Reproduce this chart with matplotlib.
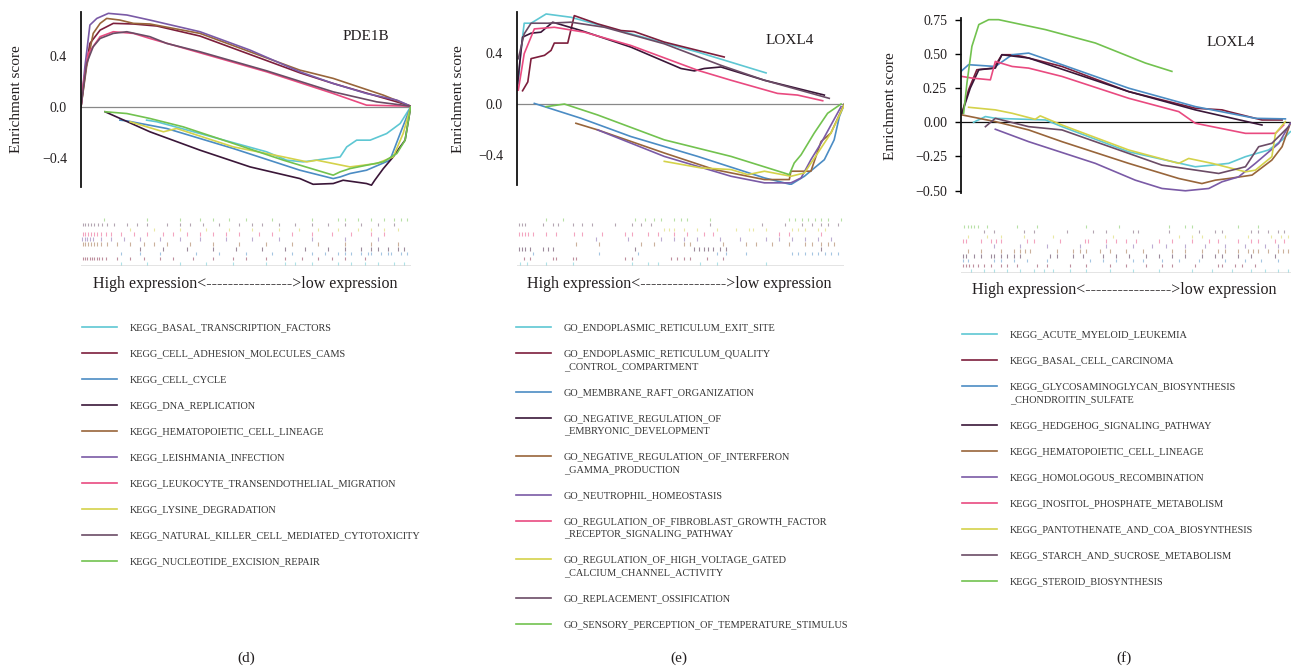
import matplotlib
matplotlib.use("Agg")
import matplotlib.pyplot as plt

plt.rcParams['font.family'] = ['Liberation Serif', 'DejaVu Serif']

W, H = 1293, 671
TXT = '#231f20'

# one colour per legend row, same order in the three panels
colors = ['#5ec7d3', '#7d1e3c', '#4b8cc4', '#3a1638', '#98653a',
          '#7a5aa6', '#e94a80', '#d4d24a', '#6b4c66', '#72c24f']

# ---------------- (d) PDE1B ----------------
d_gene = "PDE1B"
d_names = ["KEGG_BASAL_TRANSCRIPTION_FACTORS", "KEGG_CELL_ADHESION_MOLECULES_CAMS",
           "KEGG_CELL_CYCLE", "KEGG_DNA_REPLICATION", "KEGG_HEMATOPOIETIC_CELL_LINEAGE",
           "KEGG_LEISHMANIA_INFECTION", "KEGG_LEUKOCYTE_TRANSENDOTHELIAL_MIGRATION",
           "KEGG_LYSINE_DEGRADATION", "KEGG_NATURAL_KILLER_CELL_MEDIATED_CYTOTOXICITY",
           "KEGG_NUCLEOTIDE_EXCISION_REPAIR"]
d_x = [
    [19.9, 23, 36.1, 56.3, 62.4, 67.4, 78.6, 80.6, 83.6, 87.7, 92.7, 96.8, 100],
    [0, 1.2, 2.7, 5.8, 9.8, 15.9, 23, 36.1, 66.4, 76.5, 95.8, 100],
    [11.8, 13.9, 26, 46.2, 66.4, 76.5, 78.6, 81.6, 86.6, 93.7, 96.8, 100],
    [7.3, 20.9, 36.1, 51.3, 66.4, 70.4, 76.5, 79.5, 86.6, 88.1, 89.1, 91.7, 94.7, 96.8, 98.3, 100],
    [0, 1.7, 3.7, 5.8, 7.8, 11.8, 15.9, 20.9, 36.1, 66.4, 68.5, 76.5, 91.7, 100],
    [0, 1.2, 2.7, 4.8, 8.3, 13.9, 20.9, 36.1, 51.3, 66.4, 76.5, 86.6, 95.8, 100],
    [0, 0.7, 2.2, 5.8, 9.8, 15.9, 20.9, 36.1, 56.3, 76.5, 86.6, 100],
    [14.9, 25, 29, 46.2, 61.4, 68.5, 71.5, 81.6, 89.7, 94.7, 97.7, 100],
    [0, 1.7, 3.7, 5.8, 9.8, 13.9, 20.9, 26, 36.1, 56.3, 76.5, 89.7, 100],
    [7.3, 13.9, 20.9, 31, 46.2, 61.4, 76.5, 78.6, 81.6, 91.7, 95.8, 98.3, 100],
]
d_y = [
    [-0.105, -0.118, -0.211, -0.355, -0.421, -0.434, -0.395, -0.316, -0.263, -0.263, -0.211, -0.132, 0.0],
    [0, 0.263, 0.5, 0.605, 0.658, 0.653, 0.637, 0.558, 0.268, 0.184, 0.039, 0.005],
    [-0.105, -0.111, -0.171, -0.329, -0.5, -0.566, -0.553, -0.526, -0.5, -0.421, -0.211, 0.0],
    [-0.039, -0.197, -0.342, -0.474, -0.566, -0.611, -0.605, -0.579, -0.605, -0.618, -0.579, -0.487, -0.395, -0.316, -0.263, 0.0],
    [0, 0.316, 0.579, 0.658, 0.697, 0.684, 0.658, 0.653, 0.579, 0.289, 0.276, 0.224, 0.092, 0.005],
    [0, 0.32, 0.645, 0.697, 0.737, 0.724, 0.684, 0.592, 0.447, 0.276, 0.184, 0.105, 0.053, 0.005],
    [0, 0.184, 0.421, 0.553, 0.592, 0.579, 0.539, 0.426, 0.276, 0.105, 0.013, 0.005],
    [-0.118, -0.197, -0.171, -0.316, -0.395, -0.434, -0.421, -0.474, -0.447, -0.395, -0.211, 0.0],
    [0, 0.342, 0.474, 0.539, 0.579, 0.592, 0.553, 0.5, 0.434, 0.284, 0.118, 0.039, 0.005],
    [-0.039, -0.053, -0.092, -0.158, -0.289, -0.421, -0.539, -0.513, -0.487, -0.434, -0.368, -0.263, 0.0],
]
d_hits = [
    [12, 20, 30, 38, 46, 56, 62, 65, 70, 78, 82, 86, 90, 95, 98],
    [0.5, 1.2, 1.9, 2.6, 3.3, 4, 4.8, 5.6, 6.5, 7.5, 11, 15, 19, 24, 28, 34, 40, 46, 50, 56, 62, 67, 72, 76, 80, 86],
    [12, 18, 24, 35, 42, 50, 58, 64, 70, 74, 78, 80, 82, 85, 87, 88, 91, 93, 94, 97, 99],
    [18, 25, 32, 40, 47, 55, 62, 68, 75, 80, 85, 88, 90, 93, 96, 98],
    [0.5, 1.3, 2.1, 3, 3.9, 4.8, 6, 8, 11, 15, 19, 22, 26, 33, 40, 48, 56, 64, 72, 80, 88, 96],
    [0.4, 1.1, 1.8, 2.6, 3.5, 6, 9, 13, 18, 24, 30, 36, 44, 52, 60, 70, 80, 90],
    [0.5, 1.3, 2.1, 3, 4, 5, 6.2, 7.5, 9, 12, 16, 20, 25, 28, 32, 36, 40, 44, 48, 54, 58, 64, 70, 76, 82, 88, 92],
    [15, 22, 30, 38, 45, 52, 60, 66, 72, 78, 84, 88, 92, 96],
    [0.5, 1.3, 2.1, 3, 4, 5.2, 6.5, 8, 10, 14, 17, 20, 26, 30, 33, 37, 42, 48, 52, 55, 60, 65, 70, 75, 80, 85, 90, 95],
    [7, 20, 30, 36, 40, 45, 50, 58, 70, 78, 80, 84, 88, 92, 95, 97, 99],
]

# ---------------- (e) LOXL4, GO sets ----------------
e_gene = "LOXL4"
e_names = ["GO_ENDOPLASMIC_RETICULUM_EXIT_SITE",
           "GO_ENDOPLASMIC_RETICULUM_QUALITY\n_CONTROL_COMPARTMENT",
           "GO_MEMBRANE_RAFT_ORGANIZATION",
           "GO_NEGATIVE_REGULATION_OF\n_EMBRYONIC_DEVELOPMENT",
           "GO_NEGATIVE_REGULATION_OF_INTERFERON\n_GAMMA_PRODUCTION",
           "GO_NEUTROPHIL_HOMEOSTASIS",
           "GO_REGULATION_OF_FIBROBLAST_GROWTH_FACTOR\n_RECEPTOR_SIGNALING_PATHWAY",
           "GO_REGULATION_OF_HIGH_VOLTAGE_GATED\n_CALCIUM_CHANNEL_ACTIVITY",
           "GO_REPLACEMENT_OSSIFICATION",
           "GO_SENSORY_PERCEPTION_OF_TEMPERATURE_STIMULUS"]
e_x = [
    [0.4, 1.2, 2.2, 4.3, 8.9, 16.5, 34.8, 55.2, 76.1],
    [1.7, 3.3, 4.3, 8.4, 10.4, 11.4, 15.5, 17.5, 24.6, 31.8, 35.8, 45, 55.2, 63.3],
    [5.3, 19.6, 34.8, 55.2, 75.6, 83.7, 87.8, 93.9, 96.9, 98.5, 100],
    [0, 0.7, 1.7, 4.3, 7.3, 10.9, 19.6, 34.8, 50.1, 54.2, 57.2, 62.3, 75.6, 93.9],
    [18, 24.6, 45, 60.3, 75.6, 83.2, 83.7, 89.8, 92.9, 95.9, 100],
    [24.6, 45, 65.4, 75.6, 83.7, 86.8, 89.8, 92.9, 99],
    [0.4, 2.2, 5.3, 11.4, 20.6, 34.8, 55.2, 65.4, 79.6, 85.7, 93.4],
    [45, 56.2, 65.4, 70.5, 75.6, 83.7, 87.8, 91.9, 95.9, 100],
    [0.4, 2.2, 4.3, 9.4, 16.5, 26.7, 45, 62.3, 75.6, 95.4],
    [8.9, 14.5, 24.6, 45, 65.4, 83.2, 84.7, 86.8, 90.8, 94.9, 99],
]
e_y = [
    [0.162, 0.424, 0.639, 0.639, 0.712, 0.686, 0.555, 0.411, 0.246],
    [0.105, 0.175, 0.359, 0.385, 0.424, 0.482, 0.482, 0.699, 0.634, 0.581, 0.573, 0.49, 0.424, 0.372],
    [0.005, -0.113, -0.257, -0.414, -0.584, -0.636, -0.571, -0.44, -0.283, -0.099, 0.0],
    [0.11, 0.293, 0.529, 0.56, 0.568, 0.647, 0.581, 0.45, 0.281, 0.262, 0.281, 0.293, 0.188, 0.071],
    [-0.152, -0.204, -0.387, -0.518, -0.597, -0.597, -0.531, -0.531, -0.296, -0.23, 0.0],
    [-0.204, -0.414, -0.571, -0.623, -0.623, -0.584, -0.44, -0.309, -0.021],
    [0.11, 0.398, 0.594, 0.607, 0.568, 0.463, 0.267, 0.188, 0.084, 0.071, 0.026],
    [-0.453, -0.505, -0.518, -0.558, -0.531, -0.571, -0.545, -0.387, -0.23, -0.008],
    [0.359, 0.555, 0.639, 0.639, 0.647, 0.607, 0.476, 0.306, 0.188, 0.045],
    [-0.021, 0.0, -0.086, -0.283, -0.414, -0.558, -0.466, -0.401, -0.23, -0.073, 0.0],
]
e_hits = [
    [1, 3, 9, 17, 35, 40, 43, 56, 61, 76],
    [2, 4, 11, 12, 17, 18, 33, 35, 47, 49, 51, 53, 58, 63],
    [5, 25, 37, 61, 64, 70, 84, 86, 88, 90, 92, 94, 96, 98],
    [0.5, 1.5, 2.5, 4, 8, 9.5, 11, 36, 54, 55.5, 57, 58.5, 60, 62, 64, 93],
    [18, 25, 38, 42, 51, 53, 63, 70, 73, 78, 83, 88, 90, 93, 95, 97],
    [24, 34, 44, 48, 51, 55, 62, 68, 76, 80, 84, 88, 92, 96],
    [0.5, 1.5, 2.5, 3.5, 5, 9, 12, 17.5, 20, 26, 33, 35, 40, 43, 48, 52, 57, 60, 80, 83, 93],
    [45, 46.5, 48, 51, 55, 61, 67, 71, 72, 76, 84, 86, 88, 92, 94],
    [0.5, 1.5, 2.5, 8, 11, 12.5, 17, 20, 23, 30, 35, 38, 41, 59, 75, 82, 87, 90, 93, 95, 98],
    [9, 14, 36, 39, 42, 44, 48, 50, 52, 59, 83, 85, 87, 89, 91, 93, 95, 99],
]

# ---------------- (f) LOXL4, KEGG sets ----------------
f_gene = "LOXL4"
f_names = ["KEGG_ACUTE_MYELOID_LEUKEMIA", "KEGG_BASAL_CELL_CARCINOMA",
           "KEGG_GLYCOSAMINOGLYCAN_BIOSYNTHESIS\n_CHONDROITIN_SULFATE",
           "KEGG_HEDGEHOG_SIGNALING_PATHWAY", "KEGG_HEMATOPOIETIC_CELL_LINEAGE",
           "KEGG_HOMOLOGOUS_RECOMBINATION", "KEGG_INOSITOL_PHOSPHATE_METABOLISM",
           "KEGG_PANTOTHENATE_AND_COA_BIOSYNTHESIS", "KEGG_STARCH_AND_SUCROSE_METABOLISM",
           "KEGG_STEROID_BIOSYNTHESIS"]
f_x = [
    [3.8, 7.4, 10.4, 25.6, 30.6, 50.8, 71, 76.1, 81.1, 86.2, 93.2, 97.3, 99.8],
    [0.3, 2.3, 4.8, 9.9, 12.4, 15.5, 18.5, 30.6, 50.8, 71, 79.1, 81.1, 91.2, 97.3],
    [0, 2.3, 10.4, 15.5, 20.5, 30.6, 50.8, 71, 89.2, 98.3],
    [0.3, 2.8, 5.4, 10.4, 12.4, 20.5, 50.8, 71, 91.2],
    [0.3, 10.4, 20.5, 30.6, 50.8, 66, 73, 77.1, 81.1, 88.2, 94.2, 97.3, 99.8],
    [10.4, 20.5, 40.7, 52.8, 60.9, 68, 75.1, 79.1, 84.1, 89.2, 96.3, 99.8],
    [0.3, 3.3, 8.9, 10.4, 15.5, 20.5, 30.6, 50.8, 66, 71, 86.2, 95.3, 97.8],
    [2.3, 10.4, 15.5, 22.5, 24, 30.6, 50.8, 66, 69, 76.1, 86.2, 89.2, 94.2, 95.3, 98.3],
    [7.4, 10.4, 20.5, 30.6, 50.8, 60.9, 71, 78.1, 86.2, 90.2, 94.2, 99.3],
    [0.8, 1.8, 3.3, 5.4, 8.4, 11.4, 25.6, 40.7, 55.9, 63.9],
]
f_y = [
    [0.0, 0.042, 0.029, 0.017, -0.032, -0.216, -0.326, -0.314, -0.301, -0.252, -0.203, -0.13, -0.069],
    [0.066, 0.238, 0.385, 0.397, 0.495, 0.495, 0.483, 0.409, 0.225, 0.103, 0.091, 0.078, 0.017, 0.017],
    [0.373, 0.422, 0.409, 0.495, 0.507, 0.422, 0.25, 0.115, 0.029, 0.025],
    [0.066, 0.25, 0.385, 0.397, 0.495, 0.471, 0.225, 0.091, -0.02],
    [0.054, 0.005, -0.056, -0.142, -0.301, -0.412, -0.449, -0.424, -0.412, -0.387, -0.277, -0.179, -0.007],
    [-0.051, -0.142, -0.301, -0.424, -0.485, -0.502, -0.485, -0.436, -0.4, -0.301, -0.154, -0.007],
    [0.336, 0.324, 0.311, 0.446, 0.409, 0.397, 0.336, 0.176, 0.078, -0.007, -0.081, -0.081, -0.02],
    [0.11, 0.091, 0.066, 0.022, 0.047, -0.02, -0.203, -0.301, -0.265, -0.301, -0.363, -0.351, -0.252, -0.081, 0.005],
    [-0.032, 0.029, -0.032, -0.056, -0.228, -0.314, -0.35, -0.375, -0.326, -0.179, -0.154, -0.032],
    [0.066, 0.287, 0.556, 0.716, 0.752, 0.752, 0.679, 0.581, 0.434, 0.373],
]
f_hits = [
    [3, 7, 10, 14, 18, 22, 25, 28, 33, 38, 45, 52, 60, 70, 76, 82, 88, 92, 96, 99],
    [0.5, 1.5, 2.5, 3.5, 5, 7, 9, 12, 14, 17, 23, 26, 33, 38, 45, 50, 56, 61, 64, 71, 78, 79, 83, 85, 89],
    [0.5, 2, 10, 12, 16, 20, 26, 39, 43, 47, 52, 55, 61, 66, 72, 80, 86, 91, 96],
    [0.5, 1.5, 4, 6, 9, 10, 12, 14, 16, 18, 27, 29, 34, 37, 43, 47, 51, 56, 60, 64, 68, 73, 77, 79, 84, 88, 95],
    [2, 6, 12, 16, 18, 19.5, 21, 29, 34, 36, 38, 42, 45, 50, 55, 64, 68, 73, 78, 80, 84, 87, 88.5, 90, 93, 96, 97.5, 99],
    [10, 18, 26, 36, 44, 52, 58, 62, 68, 74, 80, 86, 92, 96],
    [0.5, 1.5, 6, 9, 10.5, 12, 20, 22, 30, 37.5, 38.5, 44, 47, 50, 53, 60, 64, 70, 75, 78, 84, 88, 90, 95, 98],
    [2, 8, 12, 19, 28, 46, 66, 70, 73, 80, 87, 94, 97, 99],
    [7, 10, 19, 22, 32, 40, 44, 52, 53.5, 63, 72, 77, 79, 88, 90, 93, 96, 98],
    [1, 2, 3, 4, 5, 8, 17, 23, 38, 48, 63, 68, 70, 84, 90],
]

d_ticks = [-0.4, 0.0, 0.4]
d_ticklabels = ["\u22120.4", "0.0", "0.4"]
f_ticks = [-0.5, -0.25, 0.0, 0.25, 0.5, 0.75]
f_ticklabels = ["\u22120.50", "\u22120.25", "0.00", "0.25", "0.50", "0.75"]


def px_rect(x0, y0, x1, y1):
    return [x0 / W, 1 - y1 / H, (x1 - x0) / W, (y1 - y0) / H]


fig = plt.figure(figsize=(W / 100, H / 100), dpi=100)
over = fig.add_axes([0, 0, 1, 1])
over.set_xlim(0, W)
over.set_ylim(H, 0)
over.axis('off')


def draw_panel(box, ylim, ticks, ticklabels, xs, ys, hits, names, gene,
               gene_xy, ylab_xy, zero_col, tick_len, rug_box, hl_xy,
               leg_x, leg_y0, tag, tag_x):
    ax = fig.add_axes(px_rect(*box))
    ax.set_xlim(0, 100)
    ax.set_ylim(*ylim)
    for s in ['top', 'right', 'bottom']:
        ax.spines[s].set_visible(False)
    ax.spines['left'].set_linewidth(1.3)
    ax.spines['left'].set_color('#111111')
    ax.set_xticks([])
    ax.set_yticks(ticks)
    ax.set_yticklabels(ticklabels)
    ax.tick_params(axis='y', length=tick_len, width=1, pad=10 - tick_len,
                   labelsize=10, labelcolor=TXT)
    ax.axhline(0, color=zero_col, lw=0.9, zorder=1)
    for i in range(len(xs)):
        ax.plot(xs[i], ys[i], color=colors[i], lw=1.2, zorder=2)
    ax.patch.set_alpha(0)

    # hit rug, first set at the bottom
    rug = fig.add_axes(px_rect(*rug_box))
    rug.set_xlim(0, 100)
    rug.set_ylim(0, len(hits))
    rug.axis('off')
    for i, h in enumerate(hits):
        rug.vlines(h, i + 0.15, i + 0.85, color=colors[i], lw=0.8, alpha=0.5)
    rug.axhline(0, color='#777777', lw=1.0)

    over.text(gene_xy[0], gene_xy[1], gene, fontsize=11, color=TXT,
              ha='left', va='center')
    over.text(ylab_xy[0], ylab_xy[1], "Enrichment score", fontsize=11,
              color=TXT, rotation=90, ha='center', va='center')
    over.text(hl_xy[0], hl_xy[1],
              "High expression<---------------->low expression",
              fontsize=11.5, color=TXT, ha='center', va='center')

    # legend drawn by hand: handle sits on the first line of the label
    y = leg_y0
    for i, nm in enumerate(names):
        over.plot([leg_x, leg_x + 35], [y, y], color=colors[i], lw=1.2)
        for k, line in enumerate(nm.split("\n")):
            over.text(leg_x + 48, y + 3.5 + k * 12.5, line, fontsize=7.4,
                      color='#333333', ha='left', va='baseline')
        y += 26 + 12.5 * nm.count("\n")

    over.text(tag_x, 658, tag, fontsize=11, color=TXT, ha='center', va='center')


draw_panel((81, 11.7, 410.7, 186.7), (-0.63, 0.75), d_ticks, d_ticklabels,
           d_x, d_y, d_hits, d_names, d_gene, (343, 37), (17, 99), '#888888', 0,
           (81, 217, 410.7, 266), (245, 284), 82, 327, "(d)", 246)

draw_panel((517, 11.7, 844.3, 185), (-0.64, 0.73), d_ticks, d_ticklabels,
           e_x, e_y, e_hits, e_names, e_gene, (766, 40), (459, 99), '#888888', 0,
           (517, 217, 844.3, 266), (679, 284), 516, 327, "(e)", 679)

draw_panel((961, 18.3, 1291, 192.7), (-0.516, 0.762), f_ticks, f_ticklabels,
           f_x, f_y, f_hits, f_names, f_gene, (1207, 42), (890, 106), '#111111', 4,
           (961, 224, 1291, 273), (1124, 290), 962, 334, "(f)", 1124)

fig.savefig("out.png", dpi=100)
